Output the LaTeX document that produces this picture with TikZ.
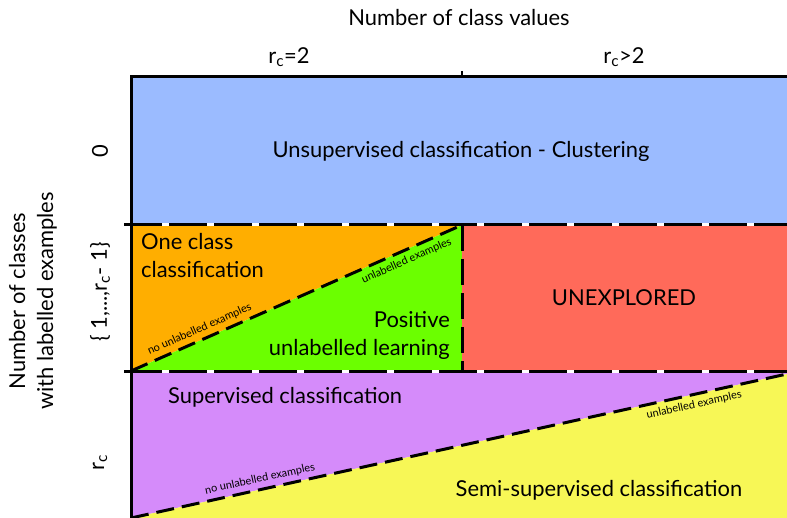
\documentclass[tikz,border=0pt]{standalone}
\usepackage{fontspec}
\setmainfont{Lato}
\usetikzlibrary{positioning}
\definecolor{clusterblue}{HTML}{9BBBFF}
\definecolor{oneorange}{HTML}{FFAE00}
\definecolor{pulgreen}{HTML}{6BFF00}
\definecolor{unexred}{HTML}{FF6A5A}
\definecolor{supviolet}{HTML}{D58BFA}
\definecolor{semiyellow}{HTML}{F7F756}
\newcommand{\rc}{r\textsubscript{c}}

\begin{document}
\begin{tikzpicture}[x=1bp, y=-1bp,
  lbl/.style={font=\fontsize{22}{28}\selectfont, inner sep=0pt},
  tiny/.style={font=\fontsize{11}{12}\selectfont, sloped, inner sep=4pt},
  border/.style={line width=3bp},
  hdash/.style={line width=3bp, dash pattern=on 38bp off 7bp},
  vdash/.style={line width=3bp, dash pattern=on 26bp off 8bp},
  ddash/.style={line width=3bp, dash pattern=on 18bp off 8bp}]
\useasboundingbox (0,0) rectangle (787,518);
% grid corners
\coordinate (tl) at (131,77);
\coordinate (tr) at (790,77);
\coordinate (ml) at (131,225);
\coordinate (mm) at (462,225);
\coordinate (mr) at (790,225);
\coordinate (ll) at (131,371);
\coordinate (lm) at (462,371);
\coordinate (lr) at (790,371);
\coordinate (bl) at (131,518);
\coordinate (br) at (790,518);
\coordinate (dr) at (787,374);
\begin{scope}
\clip (0,0) rectangle (787,518);
% regions
\fill[clusterblue] (tl) rectangle (mr);
\fill[oneorange] (ml) -- (mm) -- (ll) -- cycle;
\fill[pulgreen] (ll) -- (mm) -- (lm) -- cycle;
\fill[unexred] (mm) rectangle (lr);
\fill[supviolet] (ll) -- (lr) -- (790,373) -- (dr) -- (bl) -- cycle;
\fill[semiyellow] (bl) -- (dr) -- (790,373) -- (br) -- cycle;
% borders and dividers
\draw[white, line width=3bp] (124,225) -- (mr) (124,371) -- (lr);
\draw[hdash] (124,225) -- (mr);
\draw[hdash] (124,371) -- (lr);
\draw[vdash] (mm) -- (lm);
\draw[ddash] (ll) -- (mm)
  node[tiny, pos=0.22, above] {no unlabelled examples}
  node[tiny, pos=0.82, below] {unlabelled examples};
\draw[ddash] (bl) -- (dr)
  node[tiny, pos=0.2, above] {no unlabelled examples}
  node[tiny, pos=0.855, below] {unlabelled examples};
\draw[border] (bl) -- (tl) -- (tr);
\draw[line width=2bp] (462,71) -- (462,77);
\end{scope}
% axis titles
\node[lbl] (xtitle) at (459,18) {Number of class values};
\node[lbl] (xtwo) at (289,57) {\rc=2};
\node[lbl] (xmore) at (624,57) {\rc>2};
\node[lbl, rotate=90, align=center] (ytitle) at (33,301) {Number of classes\\with labelled examples};
\node[lbl, rotate=90] (yzero) at (100,151) {0};
\node[lbl, rotate=90] (ymid) at (100,292) {\{ 1,...,\rc- 1\}};
\node[lbl, rotate=90] (yall) at (100,463) {\rc};
% region labels
\node[lbl] (cluster) at (461,151) {Unsupervised classification - Clustering};
\node[lbl, align=left, anchor=north west] (oneclass) at (141,233) {One class\\classification};
\node[lbl, align=right, anchor=south east] (pul) at (450,360) {Positive\\unlabelled learning};
\node[lbl] (unexp) at (624,298) {UNEXPLORED};
\node[lbl, anchor=west] (sup) at (168,397) {Supervised classification};
\node[lbl] (semi) at (599,490) {Semi-supervised classification};
\end{tikzpicture}
\end{document}
